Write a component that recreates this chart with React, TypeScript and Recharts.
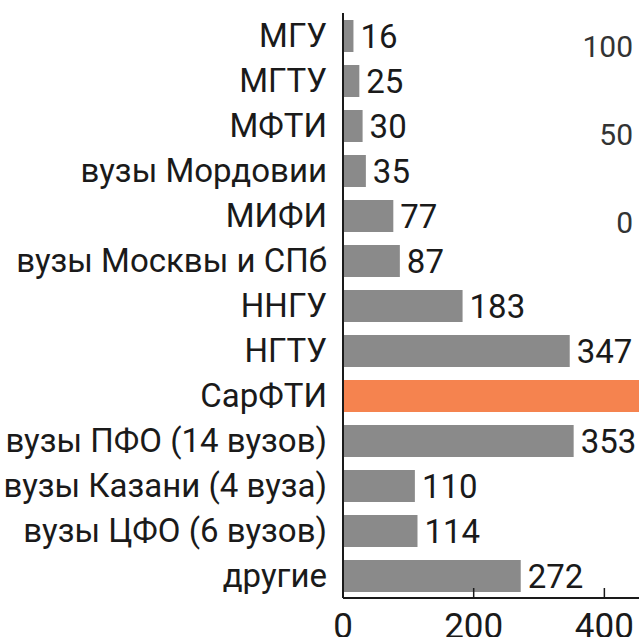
import { BarChart, Bar, XAxis, YAxis, Cell, LabelList } from "recharts"

const categories = [
  "МГУ",
  "МГТУ",
  "МФТИ",
  "вузы Мордовии",
  "МИФИ",
  "вузы Москвы и СПб",
  "ННГУ",
  "НГТУ",
  "СарФТИ",
  "вузы ПФО (14 вузов)",
  "вузы Казани (4 вуза)",
  "вузы ЦФО (6 вузов)",
  "другие",
]
// СарФТИ runs off the right edge, its value is not shown
const values = [16, 25, 30, 35, 77, 87, 183, 347, 470, 353, 110, 114, 272]
const highlight = "СарФТИ"
const xTicks = [0, 200, 400]
// stray scale from a neighbouring chart, top right
const sideLabels = ["100", "50", "0"]

const data = categories.map((name, i) => ({ name, value: values[i] }))

const font = "Roboto, sans-serif"
const textColor = "#1a1a1a"
const tickStyle = { fontSize: 33, fill: textColor, fontFamily: font }

const renderValue = (props: any) => {
  const { x, y, width, height, value } = props
  if (value > 453) return null
  return (
    <text
      x={x + width + 7}
      y={y + height / 2}
      dy="0.36em"
      fontSize={33}
      fontFamily={font}
      fill={textColor}
    >
      {value}
    </text>
  )
}

export default function App() {
  return (
    <div style={{ position: "fixed", left: 0, top: 0, background: "#ffffff", width: 639, height: 637, overflow: "hidden" }}>
      <BarChart
        width={639}
        height={637}
        data={data}
        layout="vertical"
        margin={{ top: 13, right: 0, left: 0, bottom: 0 }}
        barCategoryGap={12}
      >
        <XAxis
          type="number"
          domain={[0, 453]}
          ticks={xTicks}
          allowDataOverflow
          height={39}
          tick={{ ...tickStyle, fontSize: 35 }}
          tickSize={-10}
          tickMargin={25}
          axisLine={{ stroke: textColor, strokeWidth: 2 }}
          tickLine={{ stroke: textColor, strokeWidth: 1.5 }}
        />
        <YAxis
          type="category"
          dataKey="name"
          width={343}
          tick={tickStyle}
          tickLine={false}
          tickMargin={10}
          axisLine={{ stroke: textColor, strokeWidth: 2 }}
          interval={0}
        />
        <Bar dataKey="value" barSize={32} isAnimationActive={false}>
          {data.map((d) => (
            <Cell key={d.name} fill={d.name === highlight ? "#f5834f" : "#8a8a8a"} />
          ))}
          <LabelList dataKey="value" content={renderValue} />
        </Bar>
      </BarChart>
      {sideLabels.map((t, i) => (
        <div
          key={t}
          style={{
            position: "absolute",
            right: 6,
            top: 27 + i * 88,
            fontFamily: font,
            fontSize: 30,
            lineHeight: "40px",
            color: "#333333",
          }}
        >
          {t}
        </div>
      ))}
    </div>
  )
}
